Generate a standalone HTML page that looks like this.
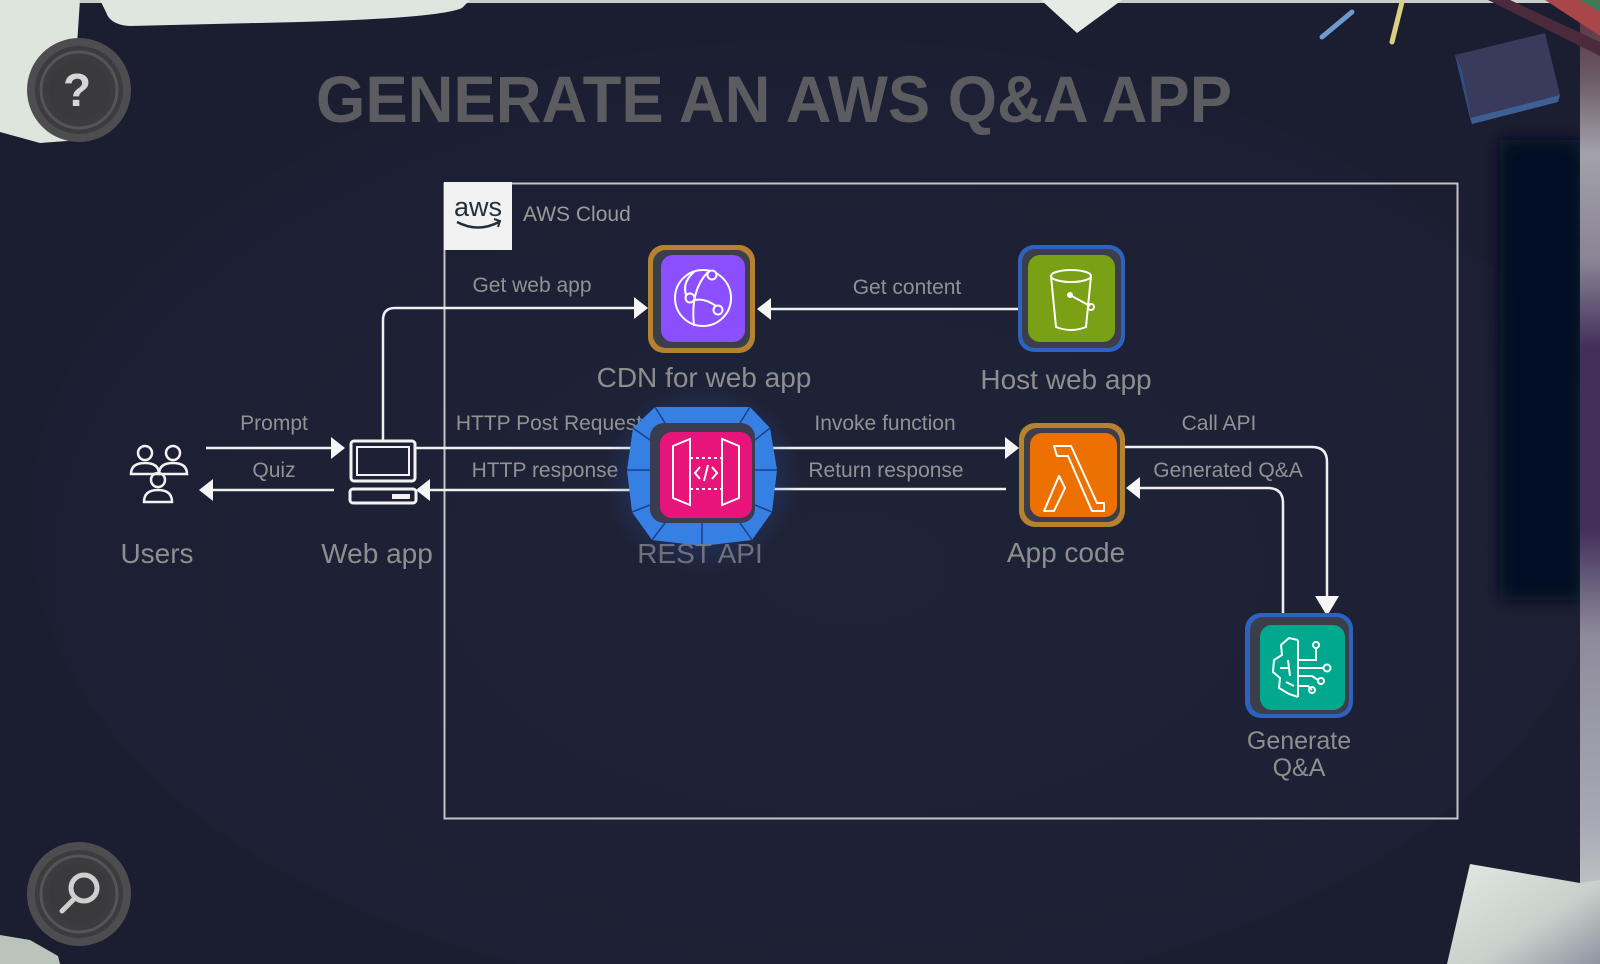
<!DOCTYPE html>
<html>
<head>
<meta charset="utf-8">
<style>
  html,body{margin:0;padding:0;background:#1c1f33;}
  svg{display:block;}
  text{font-family:"Liberation Sans", Arial, sans-serif;}
</style>
</head>
<body>
<svg width="1600" height="964" viewBox="0 0 1600 964" xmlns="http://www.w3.org/2000/svg">
  <defs>
    <radialGradient id="bgGlow" cx="0.52" cy="0.55" r="0.6">
      <stop offset="0" stop-color="#1f2337"/>
      <stop offset="0.8" stop-color="#1d2034"/>
      <stop offset="1" stop-color="#1b1d31"/>
    </radialGradient>
    <linearGradient id="rightStrip" x1="0" y1="0" x2="0" y2="1">
      <stop offset="0" stop-color="#5a2a38"/>
      <stop offset="0.08" stop-color="#6a5a66"/>
      <stop offset="0.16" stop-color="#a2a2aa"/>
      <stop offset="0.27" stop-color="#8a8494"/>
      <stop offset="0.36" stop-color="#43305a"/>
      <stop offset="0.55" stop-color="#43305a"/>
      <stop offset="0.66" stop-color="#8e8c9c"/>
      <stop offset="0.85" stop-color="#a8a8b4"/>
      <stop offset="1" stop-color="#d6ddd6"/>
    </linearGradient>
    <linearGradient id="paperBR" x1="0" y1="0" x2="1" y2="1">
      <stop offset="0" stop-color="#e2e9e2"/>
      <stop offset="0.6" stop-color="#c8d0cc"/>
      <stop offset="1" stop-color="#8e94a0"/>
    </linearGradient>
    <radialGradient id="restGlow" cx="0.5" cy="0.5" r="0.5">
      <stop offset="0" stop-color="#2e6ad8" stop-opacity="0.55"/>
      <stop offset="0.7" stop-color="#2a58b8" stop-opacity="0.2"/>
      <stop offset="1" stop-color="#2a58b8" stop-opacity="0"/>
    </radialGradient>
    <filter id="blur8" x="-20%" y="-20%" width="140%" height="140%">
      <feGaussianBlur stdDeviation="8"/>
    </filter>
  </defs>

  <!-- background -->
  <rect x="0" y="0" width="1600" height="964" fill="#1b1d31"/>
  <ellipse cx="820" cy="520" rx="790" ry="480" fill="url(#bgGlow)"/>

  <!-- right side dark shadow and strip -->
  <rect x="1500" y="140" width="82" height="460" fill="#060b20" filter="url(#blur8)"/>
  <rect x="1580" y="0" width="20" height="964" fill="url(#rightStrip)"/>

  <!-- top edge light strip -->
  <rect x="0" y="0" width="1600" height="3" fill="#c9cfcb"/>

  <!-- top-left paper -->
  <path d="M0,0 L80,0 L76,60 L98,118 L80,140 L40,143 L0,132 Z" fill="#dde5dd"/>
  <path d="M100,0 L470,0 L462,8 Q440,18 300,22 L130,26 Q110,25 106,12 Z" fill="#dfe6e0"/>

  <!-- top center triangle -->
  <path d="M1041,0 L1122,0 L1077,33 Z" fill="#e6ebe6"/>

  <!-- chalk -->
  <line x1="1322" y1="37" x2="1352" y2="12" stroke="#6f9ad0" stroke-width="5" stroke-linecap="round"/>
  <line x1="1392" y1="42" x2="1402" y2="2" stroke="#d9d182" stroke-width="5" stroke-linecap="round"/>

  <!-- top-right corner objects -->
  <path d="M1488,0 L1510,0 L1600,42 L1600,56 Z" fill="#4a2a3c"/>
  <path d="M1545,0 L1600,0 L1600,36 Z" fill="#a8464a"/>
  <path d="M1580,0 L1600,0 L1600,12 Z" fill="#3f7a55"/>

  <!-- eraser -->
  <path d="M1455,55 L1545,33 L1560,95 L1470,118 Z" fill="#393a5c"/>
  <path d="M1470,118 L1560,95 L1558,102 L1472,124 Z" fill="#3e5f93"/>
  <path d="M1455,55 L1470,118 L1472,124 L1462,70 Z" fill="#2f4f80"/>

  <!-- bottom-right paper -->
  <path d="M1470,864 L1580,883 L1600,880 L1600,964 L1447,964 Z" fill="url(#paperBR)"/>
  <!-- bottom-left paper -->
  <path d="M0,935 L30,940 L58,956 L60,964 L0,964 Z" fill="#b9c5ba"/>

  <!-- help button -->
  <g>
    <circle cx="79" cy="90" r="52" fill="#4d4d50"/>
    <circle cx="79" cy="90" r="44" fill="#3c3c3f"/>
    <circle cx="79" cy="90" r="38" fill="none" stroke="#555558" stroke-width="3"/>
    <circle cx="79" cy="90" r="30" fill="#3a3a3d"/>
    <text x="77" y="106" font-size="46" font-weight="bold" fill="#d6d6d6" text-anchor="middle">?</text>
  </g>

  <!-- search button -->
  <g>
    <circle cx="79" cy="894" r="52" fill="#4d4d50"/>
    <circle cx="79" cy="894" r="44" fill="#3c3c3f"/>
    <circle cx="79" cy="894" r="38" fill="none" stroke="#555558" stroke-width="3"/>
    <circle cx="79" cy="894" r="30" fill="#3a3a3d"/>
    <circle cx="84" cy="888" r="13" fill="none" stroke="#cfcfcf" stroke-width="5"/>
    <line x1="75" y1="898" x2="62" y2="911" stroke="#cfcfcf" stroke-width="5" stroke-linecap="round"/>
  </g>

  <!-- title -->
  <text x="316" y="122" font-size="66" font-weight="bold" fill="#5b5b60" textLength="916" lengthAdjust="spacingAndGlyphs">GENERATE AN AWS Q&amp;A APP</text>

  <!-- AWS Cloud box -->
  <rect x="444.5" y="183.5" width="1013" height="635" fill="none" stroke="#c4c4c4" stroke-width="2"/>
  <rect x="444" y="182" width="68" height="68" fill="#f2f2f2"/>
  <text x="478" y="216" font-size="27" fill="#232f3e" text-anchor="middle">aws</text>
  <path d="M457,222 Q478,233 499,222" fill="none" stroke="#232f3e" stroke-width="2.5"/>
  <path d="M494,219 L500,221 L498,227" fill="none" stroke="#232f3e" stroke-width="2"/>
  <text x="523" y="221" font-size="21" fill="#9a9a9a">AWS Cloud</text>

  <!-- connectors -->
  <g stroke="#f0f0f0" stroke-width="2.5" fill="none">
    <path d="M383,440 L383,320 Q383,308 395,308 L636,308"/>
    <path d="M1023,309 L770,309"/>
    <path d="M206,448 L332,448"/>
    <path d="M334,490 L212,490"/>
    <path d="M416,448 L636,448"/>
    <path d="M656,490 L429,490"/>
    <path d="M752,448 L1006,448"/>
    <path d="M1006,489 L769,489"/>
    <path d="M1125,447 L1312,447 Q1327,447 1327,462 L1327,598"/>
    <path d="M1283,615 L1283,503 Q1283,488 1268,488 L1139,488"/>
  </g>
  <g fill="#f5f5f5">
    <path d="M648,308 L634,297 L634,319 Z"/>
    <path d="M757,309 L771,298 L771,320 Z"/>
    <path d="M345,448 L331,437 L331,459 Z"/>
    <path d="M199,490 L213,479 L213,501 Z"/>
    <path d="M649,448 L635,437 L635,459 Z"/>
    <path d="M416,490 L430,479 L430,501 Z"/>
    <path d="M1019,448 L1005,437 L1005,459 Z"/>
    <path d="M756,489 L770,478 L770,500 Z"/>
    <path d="M1327,616 L1315,596 L1339,596 Z"/>
    <path d="M1126,488 L1140,477 L1140,499 Z"/>
  </g>

  <!-- edge labels -->
  <g font-size="21" fill="#929292" text-anchor="middle">
    <text x="532" y="292">Get web app</text>
    <text x="907" y="294">Get content</text>
    <text x="274" y="430">Prompt</text>
    <text x="274" y="477">Quiz</text>
    <text x="549" y="430">HTTP Post Request</text>
    <text x="545" y="477">HTTP response</text>
    <text x="885" y="430">Invoke function</text>
    <text x="886" y="477">Return response</text>
    <text x="1219" y="430">Call API</text>
    <text x="1228" y="477">Generated Q&amp;A</text>
  </g>

  <!-- Users icon -->
  <g stroke="#f2f2f2" stroke-width="2.5" fill="none">
    <circle cx="145" cy="453" r="7"/>
    <path d="M131,474 Q131,463 145,463 Q159,463 159,474 Z"/>
    <circle cx="173" cy="453" r="7"/>
    <path d="M159,474 Q159,463 173,463 Q187,463 187,474 Z"/>
    <circle cx="158" cy="480" r="7"/>
    <path d="M144,502 Q144,490 158,490 Q172,490 172,502 Z" fill="#1d2034"/>
  </g>

  <!-- Web app computer icon -->
  <g stroke="#f2f2f2" fill="none">
    <rect x="351" y="441" width="64" height="40" rx="3" stroke-width="3"/>
    <rect x="357" y="447" width="52" height="28" stroke-width="2"/>
    <rect x="350" y="489" width="66" height="14" rx="3" stroke-width="3"/>
  </g>
  <rect x="392" y="494" width="18" height="5" fill="#f2f2f2"/>

  <!-- node labels -->
  <g font-size="28" fill="#8e8e8e" text-anchor="middle">
    <text x="157" y="563">Users</text>
    <text x="377" y="563">Web app</text>
    <text x="704" y="387">CDN for web app</text>
    <text x="1066" y="389">Host web app</text>
    <text x="1066" y="562">App code</text>
  </g>
  <g font-size="25" fill="#8e8e8e" text-anchor="middle">
    <text x="1299" y="749">Generate</text>
    <text x="1299" y="776">Q&amp;A</text>
  </g>

  <!-- CDN icon -->
  <g>
    <rect x="648" y="245" width="107" height="108" rx="16" fill="#b5832f"/>
    <rect x="653" y="250" width="97" height="98" rx="13" fill="#3d3e4b"/>
    <rect x="661" y="255" width="84" height="87" rx="12" fill="#8c4fff"/>
    <g stroke="#ffffff" stroke-width="2" fill="none">
      <circle cx="703" cy="298" r="28"/>
      <path d="M690,303 Q678,285 695,271"/>
      <path d="M708,272 Q690,290 694,326"/>
      <path d="M695,300 Q705,298 716,306"/>
      <circle cx="712" cy="275" r="4.5" fill="#8c4fff"/>
      <circle cx="690" cy="298" r="4.5" fill="#8c4fff"/>
      <circle cx="718" cy="310" r="4.5" fill="#8c4fff"/>
    </g>
  </g>

  <!-- S3 icon -->
  <g>
    <rect x="1018" y="245" width="107" height="107" rx="16" fill="#2e62c0"/>
    <rect x="1022" y="249" width="99" height="99" rx="13" fill="#3d3e4b"/>
    <rect x="1028" y="255" width="87" height="87" rx="12" fill="#7aa116"/>
    <g stroke="#ffffff" stroke-width="2" fill="none">
      <ellipse cx="1071" cy="276" rx="20" ry="6"/>
      <path d="M1051,276 L1056,327 Q1071,333 1086,327 L1091,276"/>
      <path d="M1070,295 L1090,306"/>
      <circle cx="1070" cy="295" r="2" fill="#fff"/>
      <circle cx="1091" cy="307" r="3"/>
    </g>
  </g>

  <!-- REST API icon -->
  <g>
    <ellipse cx="702" cy="478" rx="100" ry="95" fill="url(#restGlow)"/>
    <path d="M655,407 L750,407 L770,428 L777,470 L772,512 L752,540 L702,546 L652,540 L632,512 L627,470 L633,428 Z" fill="#3680e4"/>
    <g stroke="#1b3f88" stroke-width="1.5" fill="none">
      <path d="M655,407 L665,423"/><path d="M750,407 L740,423"/>
      <path d="M770,428 L755,440"/><path d="M633,428 L650,440"/>
      <path d="M627,470 L650,470"/><path d="M777,470 L755,470"/>
      <path d="M632,512 L650,505"/><path d="M772,512 L755,505"/>
      <path d="M652,540 L665,523"/><path d="M752,540 L740,523"/>
      <path d="M702,546 L702,523"/>
    </g>
    <rect x="650" y="423" width="105" height="100" rx="14" fill="#3a3d50"/>
    <rect x="660" y="432" width="92" height="86" rx="12" fill="#e7157b"/>
    <g stroke="#ffffff" stroke-width="2" fill="none">
      <path d="M673,446 L690,439 L690,505 L673,498 Z"/>
      <path d="M739,446 L722,439 L722,505 L739,498 Z"/>
      <path d="M690,458 L722,458" stroke-dasharray="3,3"/>
      <path d="M690,489 L722,489" stroke-dasharray="3,3"/>
      <path d="M700,467 L695,473 L700,479"/>
      <path d="M712,467 L717,473 L712,479"/>
      <path d="M708,465 L704,481"/>
    </g>
  </g>
  <text x="700" y="563" font-size="28" fill="#7c7e88" text-anchor="middle" opacity="0.85">REST API</text>

  <!-- Lambda icon -->
  <g>
    <rect x="1019" y="423" width="106" height="104" rx="16" fill="#b5832f"/>
    <rect x="1024" y="428" width="96" height="94" rx="13" fill="#3d3e4b"/>
    <rect x="1030" y="433" width="87" height="84" rx="12" fill="#ed7100"/>
    <path d="M1054,446 L1071,446 L1097,503 L1104,503 L1104,511 L1092,511 L1068,456 L1057,456 Z M1059,476 L1065,488 L1054,511 L1044,511 Z" fill="none" stroke="#ffffff" stroke-width="2" stroke-linejoin="round"/>
  </g>

  <!-- Generate Q&A icon -->
  <g>
    <rect x="1245" y="613" width="108" height="105" rx="16" fill="#2e62c0"/>
    <rect x="1250" y="617" width="99" height="97" rx="13" fill="#3d3e4b"/>
    <rect x="1260" y="625" width="85" height="85" rx="12" fill="#01a88d"/>
    <g stroke="#ffffff" stroke-width="2" fill="none">
      <path d="M1298,640 L1289,638 L1281,645 L1282,655 L1274,660 L1273,672 L1280,678 L1279,688 L1289,694 L1298,697"/>
      <path d="M1298,640 L1298,697"/>
      <path d="M1280,668 L1288,668 M1288,660 L1290,676 M1286,682 L1294,686"/>
      <path d="M1298,660 L1316,660 L1316,648"/>
      <circle cx="1316" cy="645" r="3"/>
      <path d="M1298,668 L1323,668"/>
      <circle cx="1327" cy="668" r="3.5"/>
      <path d="M1298,676 L1312,676 L1318,680"/>
      <circle cx="1321" cy="681" r="3"/>
      <path d="M1298,686 L1308,686 L1312,690"/>
      <circle cx="1312" cy="690" r="3"/>
    </g>
  </g>
</svg>
</body>
</html>
